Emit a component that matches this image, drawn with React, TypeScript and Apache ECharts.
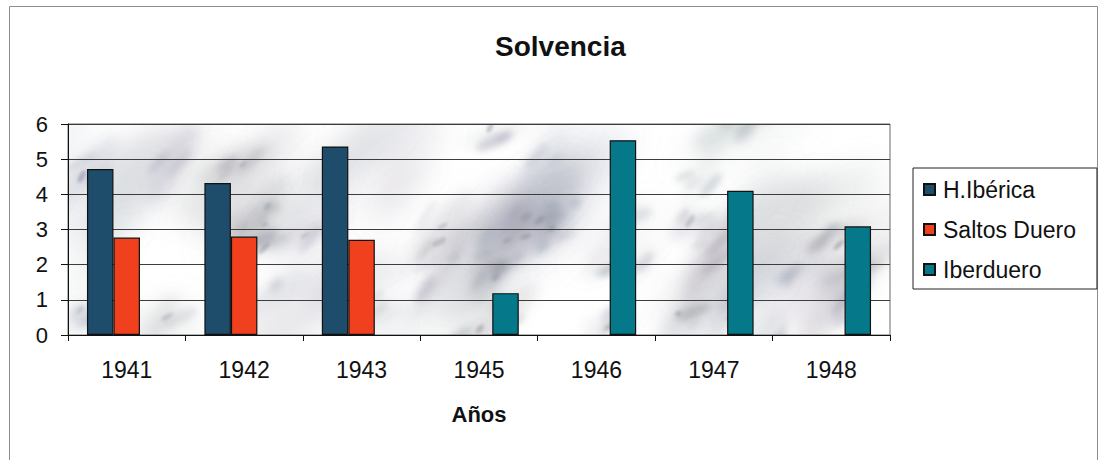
import React, { useEffect, useRef } from "react";
import * as echarts from "echarts";

// Years on the category axis and the solvency ratio of each company
const categories = ["1941", "1942", "1943", "1945", "1946", "1947", "1948"];
const hIberica = [4.72, 4.32, 5.36, null, null, null, null];
const saltosDuero = [2.77, 2.8, 2.71, null, null, null, null];
const iberduero = [null, null, null, 1.19, 5.54, 4.1, 3.09];
const seriesNames = ["H.Ibérica", "Saltos Duero", "Iberduero"];
const seriesColors = ["#1e4d6b", "#f0401e", "#05798a"];

const FONT = "'Liberation Sans', Arial, Helvetica, sans-serif";

const GRID = { left: 68, top: 124, width: 822, height: 211 };

// Grey marble texture painted on an offscreen canvas for the plot background
function makeMarble(w: number, h: number): string {
  const c = document.createElement("canvas");
  c.width = w;
  c.height = h;
  const ctx = c.getContext("2d");
  if (!ctx) return "";
  ctx.fillStyle = "#ffffff";
  ctx.fillRect(0, 0, w, h);
  let seed = 23;
  const rnd = () => {
    seed = (seed * 16807) % 2147483647;
    return (seed - 1) / 2147483646;
  };
  const wisp = (cx: number, cy: number, blur: number, a: number, len: number, thick: number) => {
    ctx.filter = `blur(${blur}px)`;
    ctx.save();
    ctx.translate(cx, cy);
    ctx.rotate(-0.7 + (rnd() - 0.5) * 0.8);
    ctx.fillStyle = `rgba(${115 + Math.round(rnd() * 25)},${120 + Math.round(rnd() * 25)},${135 + Math.round(rnd() * 25)},${a})`;
    ctx.beginPath();
    ctx.ellipse(0, 0, len, thick, 0, 0, Math.PI * 2);
    ctx.fill();
    ctx.restore();
  };
  // soft haze over the whole slab
  for (let i = 0; i < 45; i++) {
    wisp(rnd() * w, rnd() * h, 14, 0.06 + rnd() * 0.1, 40 + rnd() * 60, 12 + rnd() * 14);
  }
  // cloudy veins with darker specks inside
  for (let i = 0; i < 48; i++) {
    const cx = rnd() * w;
    const cy = rnd() * h;
    wisp(cx, cy, 7, 0.1 + rnd() * 0.12, 20 + rnd() * 30, 6 + rnd() * 8);
    const k = 1 + Math.floor(rnd() * 3);
    for (let j = 0; j < k; j++) {
      wisp(cx + (rnd() - 0.5) * 40, cy + (rnd() - 0.5) * 24, 3, 0.12 + rnd() * 0.18, 6 + rnd() * 14, 2 + rnd() * 4);
    }
    if (rnd() > 0.5) wisp(cx + (rnd() - 0.5) * 16, cy + (rnd() - 0.5) * 16, 1.5, 0.25 + rnd() * 0.2, 3 + rnd() * 5, 1.5 + rnd() * 2);
  }
  ctx.filter = "none";
  return c.toDataURL("image/png");
}

export default function App() {
  const ref = useRef<HTMLDivElement>(null);

  useEffect(() => {
    if (!ref.current) return;
    const chart = echarts.init(ref.current, undefined, { renderer: "svg" });
    const marble = makeMarble(GRID.width, GRID.height);

    const barSeries = [hIberica, saltosDuero, iberduero].map((data, i) => ({
      name: seriesNames[i],
      type: "bar" as const,
      data,
      barWidth: 26.5,
      barGap: "0%",
      itemStyle: {
        color: seriesColors[i],
        borderColor: "#111",
        borderWidth: 1.2,
      },
      z: 3,
    }));

    chart.setOption({
      animation: false,
      backgroundColor: "#ffffff",
      textStyle: { fontFamily: FONT },
      title: {
        text: "Solvencia",
        left: 490,
        top: 27,
        textStyle: { fontFamily: FONT, fontSize: 28, fontWeight: "bold", color: "#111" },
      },
      legend: {
        orient: "vertical",
        left: 913,
        top: 168,
        padding: [10, 21, 8, 10],
        itemGap: 17,
        itemWidth: 11,
        itemHeight: 11,
        icon: "rect",
        borderColor: "#222",
        borderWidth: 1,
        data: seriesNames,
        textStyle: { fontFamily: FONT, fontSize: 23, lineHeight: 23, color: "#111", padding: [0, 0, 0, 3] },
      },
      grid: {
        ...GRID,
        show: true,
        backgroundColor: "transparent",
        borderColor: "#6a6a6a",
        borderWidth: 1,
      },
      graphic: [
        {
          type: "rect",
          z: -20,
          shape: { x: 9.5, y: 6.5, width: 1088, height: 470 },
          style: { fill: "none", stroke: "#8c8c8c", lineWidth: 1 },
        },
        {
          type: "image",
          z: -10,
          x: GRID.left,
          y: GRID.top,
          style: { image: marble, width: GRID.width, height: GRID.height },
        },
      ],
      xAxis: {
        type: "category",
        data: categories,
        boundaryGap: true,
        name: "Años",
        nameLocation: "middle",
        nameGap: 68,
        nameTextStyle: { fontFamily: FONT, fontSize: 22, fontWeight: "bold", color: "#111" },
        axisLine: { show: true, lineStyle: { color: "#111", width: 1 } },
        axisTick: { show: true, alignWithLabel: false, length: 6, lineStyle: { color: "#111" } },
        axisLabel: { margin: 23, fontFamily: FONT, fontSize: 23, color: "#111" },
        splitLine: { show: false },
      },
      yAxis: {
        type: "value",
        min: 0,
        max: 6,
        interval: 1,
        axisLine: { show: true, lineStyle: { color: "#111", width: 1 } },
        axisTick: { show: true, length: 7, lineStyle: { color: "#111" } },
        axisLabel: { margin: 20, fontFamily: FONT, fontSize: 22, color: "#111" },
        splitLine: { show: true, lineStyle: { color: "#3c3c3c", width: 1 } },
      },
      series: barSeries,
    });

    return () => {
      chart.dispose();
    };
  }, []);

  return (
    <div
      ref={ref}
      style={{ position: "fixed", left: 0, top: 0, width: 1101, height: 460 }}
    />
  );
}
